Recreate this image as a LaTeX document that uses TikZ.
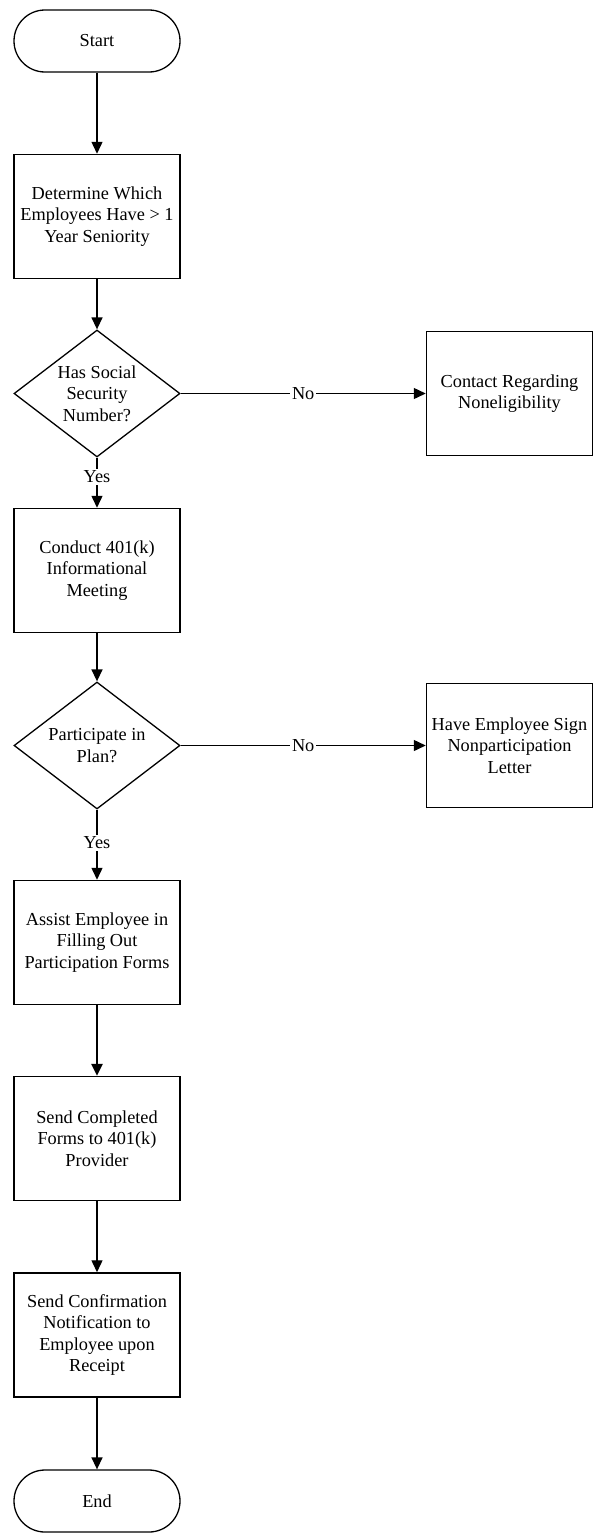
\documentclass[tikz,border=0pt]{standalone}
\usepackage{fontspec}
\setmainfont{Liberation Serif}
\usetikzlibrary{arrows.meta,shapes.geometric}
\begin{document}
\begin{tikzpicture}[x=1pt,y=-1pt,
  every node/.style={font=\fontsize{18.3}{21.5}\selectfont, align=center},
  procbox/.style={draw, line width=1.5pt, minimum width=166pt, minimum height=124pt, inner sep=0pt},
  terminal/.style={draw, line width=1.3pt, rounded corners=31pt, minimum width=166pt, minimum height=62pt},
  decision/.style={draw, diamond, line width=1.3pt, aspect=1.3, minimum width=166pt, minimum height=127pt, inner sep=0pt},
  flow/.style={line width=1.4pt, -{Triangle[length=12pt,width=11pt]}},
  heavyflow/.style={flow, line width=2.8pt},
  branch/.style={fill=white, inner sep=2pt}]
\useasboundingbox (0,0) rectangle (593,1539);

% main column
\node[terminal] (start) at (97,41) {Start};
\node[procbox] (seniority) at (97,216.5) {Determine Which\\Employees Have > 1\\Year Seniority};
\node[decision] (ssn) at (97,393.5) {Has Social\\Security\\Number?};
\node[procbox] (meeting) at (97,570.5) {Conduct 401(k)\\Informational\\Meeting};
\node[decision] (participate) at (97,745.5) {Participate in\\Plan?};
\node[procbox] (assist) at (97,942.5) {Assist Employee in\\Filling Out\\Participation Forms};
\node[procbox] (sendforms) at (97,1138.5) {Send Completed\\Forms to 401(k)\\Provider};
\node[procbox] (confirm) at (97,1335) {Send Confirmation\\Notification to\\Employee upon\\Receipt};
\node[terminal] (end) at (97,1501) {End};

% side branches
\node[procbox] (noneligible) at (509.5,393.5) {Contact Regarding\\Noneligibility};
\node[procbox] (nonpart) at (509.5,745.5) {Have Employee Sign\\Nonparticipation\\Letter};

% connectors
\draw[flow] (start) -- (seniority);
\draw[flow] (seniority) -- (ssn);
\draw[flow] (ssn.east) -- node[branch] (no1) {No} (noneligible.west);
\draw[flow] (ssn.south) -- node[branch,pos=0.38] (yes1) {Yes} (meeting.north);
\draw[flow] (meeting) -- (participate);
\draw[flow] (participate.east) -- node[branch] (no2) {No} (nonpart.west);
\draw[flow] (participate.south) -- node[branch,pos=0.47] (yes2) {Yes} (assist.north);
\draw[heavyflow] (assist) -- (sendforms);
\draw[flow] (sendforms) -- (confirm);
\draw[flow] (confirm) -- (end);
\end{tikzpicture}
\end{document}
